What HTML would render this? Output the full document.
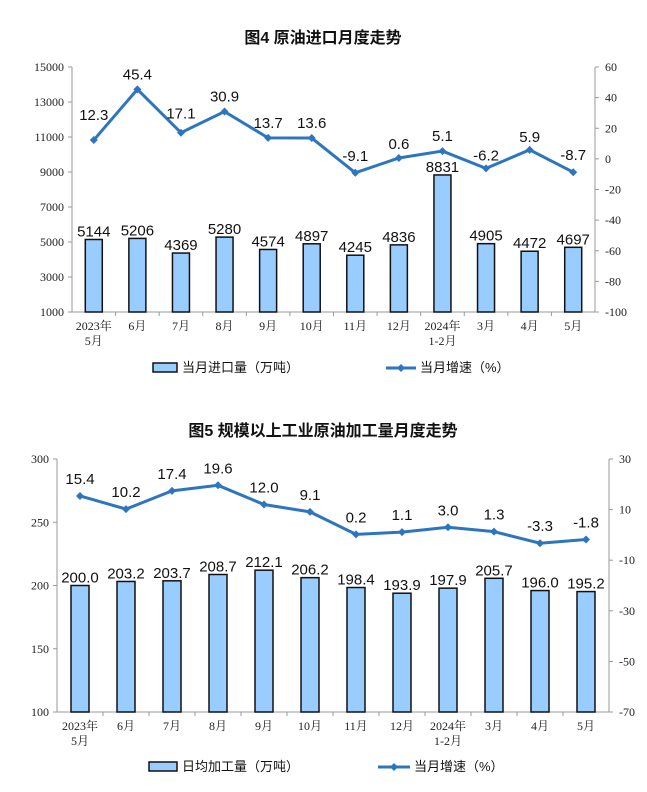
<!DOCTYPE html>
<html><head><meta charset="utf-8"><style>
body{margin:0;background:#fff;}
svg text{font-family:"Liberation Sans","Noto Sans CJK SC",sans-serif;}
.t{font-family:"Liberation Serif","Noto Serif CJK SC",serif !important;font-size:12px;fill:#222;}
.v{font-size:15px;fill:#111;}
</style></head><body>
<svg id="s" width="647" height="787" xmlns="http://www.w3.org/2000/svg"></svg>
<script>
const s=document.getElementById('s');let h='';
const cats=[['2023年','5月'],['6月'],['7月'],['8月'],['9月'],['10月'],['11月'],['12月'],['2024年','1-2月'],['3月'],['4月'],['5月']];
function chart(o){
 const {x0,x1,yT,yB,lMin,lMax,lStep,rMin,rMax,rStep,bars,line,bw,bdec,ldec,offs}=o;
 const sp=(x1-x0)/12;
 const yl=v=>yB-(v-lMin)/(lMax-lMin)*(yB-yT);
 const yr=v=>yB-(v-rMin)/(rMax-rMin)*(yB-yT);
 h+=`<line x1="${x0}" y1="${yT}" x2="${x0}" y2="${yB}" stroke="#999"/>`;
 h+=`<line x1="${x1}" y1="${yT}" x2="${x1}" y2="${yB}" stroke="#999"/>`;
 h+=`<line x1="${x0}" y1="${yB}" x2="${x1}" y2="${yB}" stroke="#999"/>`;
 for(let v=lMin;v<=lMax;v+=lStep){const y=yl(v);h+=`<line x1="${x0-4}" y1="${y}" x2="${x0}" y2="${y}" stroke="#999"/><text class="t" x="${x0-8}" y="${y+4}" text-anchor="end">${v}</text>`;}
 for(let v=rMin;v<=rMax;v+=rStep){const y=yr(v);h+=`<line x1="${x1}" y1="${y}" x2="${x1+4}" y2="${y}" stroke="#999"/><text class="t" x="${x1+10}" y="${y+4}">${v}</text>`;}
 for(let i=1;i<12;i++){const x=x0+sp*i;h+=`<line x1="${x}" y1="${yB}" x2="${x}" y2="${yB+4}" stroke="#999"/>`;}
 let pts=[];
 bars.forEach((b,i)=>{const c=x0+sp*(i+0.5);const y=yl(b);
  h+=`<rect x="${c-bw/2}" y="${y}" width="${bw}" height="${yB-y}" fill="#99ccff" stroke="#111" stroke-width="1.5"/>`;
  h+=`<text class="v" x="${c}" y="${y-3}" text-anchor="middle">${b.toFixed(bdec)}</text>`;
  cats[i].forEach((t,k)=>h+=`<text class="t" x="${c}" y="${yB+18+k*15}" text-anchor="middle">${t}</text>`);
  pts.push([c,yr(line[i])]);});
 h+=`<polyline points="${pts.map(p=>p.join(',')).join(' ')}" fill="none" stroke="#2e75c0" stroke-width="3"/>`;
 pts.forEach((p,i)=>{h+=`<path d="M${p[0]-4} ${p[1]}L${p[0]} ${p[1]-4}L${p[0]+4} ${p[1]}L${p[0]} ${p[1]+4}Z" fill="#2e75c0"/>`;
  h+=`<text class="v" x="${p[0]}" y="${p[1]-(offs?offs[i]:12)}" text-anchor="middle">${line[i].toFixed(ldec)}</text>`;});
}
h+=`<text x="323" y="43" text-anchor="middle" font-size="16" font-weight="bold" fill="#111">图4  原油进口月度走势</text>`;
chart({x0:72,x1:595,yT:67,yB:312,lMin:1000,lMax:15000,lStep:2000,rMin:-100,rMax:60,rStep:20,
 bars:[5144,5206,4369,5280,4574,4897,4245,4836,8831,4905,4472,4697],
 line:[12.3,45.4,17.1,30.9,13.7,13.6,-9.1,0.6,5.1,-6.2,5.9,-8.7],bw:17,bdec:0,ldec:1,
 offs:[20,10,14,10,10,10,12,9,10,8,8,12]});
h+=`<rect x="153" y="363" width="24" height="9" fill="#99ccff" stroke="#111" stroke-width="1.5"/><text x="182" y="372" font-size="13" fill="#111">当月进口量（万吨）</text>`;
h+=`<line x1="386" y1="368" x2="416" y2="368" stroke="#2e75c0" stroke-width="3"/><path d="M397 368L401 364L405 368L401 372Z" fill="#2e75c0"/><text x="420" y="372" font-size="13" fill="#111">当月增速（%）</text>`;
h+=`<text x="323" y="436" text-anchor="middle" font-size="16" font-weight="bold" fill="#111">图5  规模以上工业原油加工量月度走势</text>`;
chart({x0:57,x1:609,yT:459,yB:712,lMin:100,lMax:300,lStep:50,rMin:-70,rMax:30,rStep:20,
 bars:[200.0,203.2,203.7,208.7,212.1,206.2,198.4,193.9,197.9,205.7,196.0,195.2],
 line:[15.4,10.2,17.4,19.6,12.0,9.1,0.2,1.1,3.0,1.3,-3.3,-1.8],bw:18,bdec:1,ldec:1});
h+=`<rect x="149" y="762" width="28" height="9" fill="#99ccff" stroke="#111" stroke-width="1.5"/><text x="182" y="771" font-size="13" fill="#111">日均加工量（万吨）</text>`;
h+=`<line x1="378" y1="767" x2="410" y2="767" stroke="#2e75c0" stroke-width="3"/><path d="M390 767L394 763L398 767L394 771Z" fill="#2e75c0"/><text x="414" y="771" font-size="13" fill="#111">当月增速（%）</text>`;
s.innerHTML=h;
</script>
</body></html>
